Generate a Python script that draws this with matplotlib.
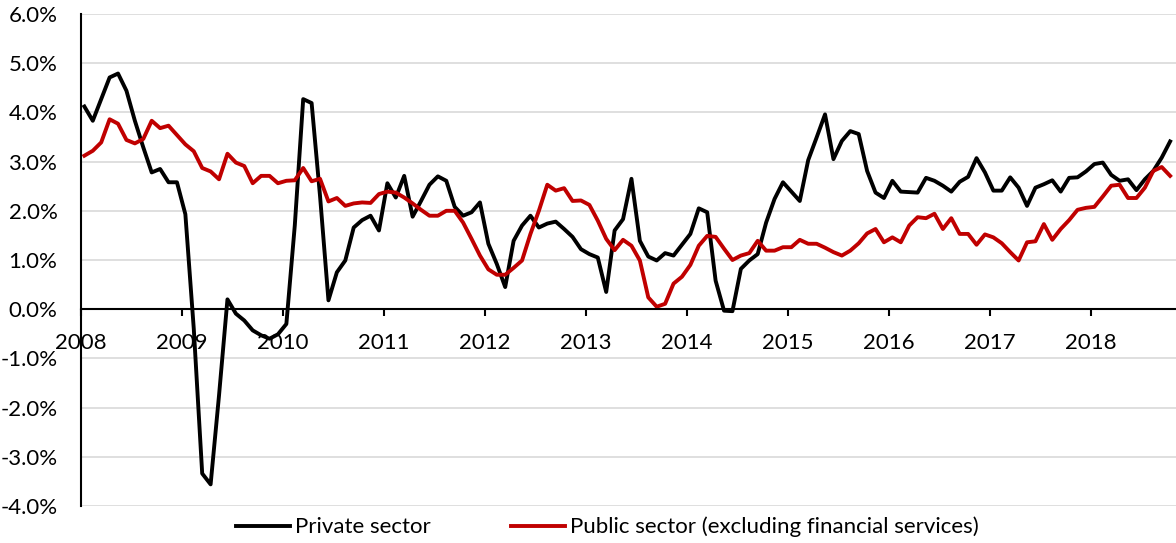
import numpy as np
import matplotlib.pyplot as plt
from matplotlib.ticker import FuncFormatter, MultipleLocator

# Monthly growth, Jan 2008 - Oct 2018 (per cent)
private_sector = [
    4.12, 3.83, 4.27, 4.71, 4.79, 4.44, 3.83, 3.29, 2.78, 2.85, 2.58, 2.58,
    1.93, -0.40, -3.34, -3.56, -1.75, 0.20, -0.09, -0.23, -0.43, -0.53, -0.60, -0.51,
    -0.30, 1.70, 4.27, 4.19, 2.30, 0.18, 0.75, 0.99, 1.66, 1.81, 1.90, 1.60,
    2.56, 2.27, 2.71, 1.88, 2.20, 2.53, 2.70, 2.61, 2.08, 1.90, 1.97, 2.17,
    1.33, 0.92, 0.45, 1.39, 1.70, 1.90, 1.66, 1.74, 1.78, 1.63, 1.47, 1.22,
    1.12, 1.05, 0.35, 1.60, 1.83, 2.65, 1.39, 1.07, 0.99, 1.14, 1.09, 1.31,
    1.53, 2.05, 1.97, 0.58, -0.03, -0.04, 0.82, 0.99, 1.12, 1.76, 2.24, 2.58,
    2.39, 2.20, 3.03, 3.49, 3.96, 3.05, 3.42, 3.62, 3.56, 2.81, 2.37, 2.26,
    2.61, 2.39, 2.38, 2.37, 2.67, 2.61, 2.51, 2.39, 2.59, 2.69, 3.07, 2.78,
    2.41, 2.41, 2.68, 2.47, 2.10, 2.47, 2.54, 2.62, 2.39, 2.67, 2.68, 2.80,
    2.95, 2.98, 2.73, 2.61, 2.64, 2.42, 2.64, 2.81, 3.08, 3.41,
]
public_sector = [
    3.12, 3.22, 3.39, 3.86, 3.77, 3.44, 3.37, 3.46, 3.83, 3.68, 3.73, 3.54,
    3.35, 3.21, 2.87, 2.80, 2.64, 3.16, 2.98, 2.91, 2.56, 2.71, 2.71, 2.56,
    2.61, 2.62, 2.87, 2.60, 2.65, 2.19, 2.26, 2.10, 2.15, 2.17, 2.16, 2.34,
    2.39, 2.37, 2.27, 2.15, 2.02, 1.90, 1.90, 2.00, 2.00, 1.76, 1.43, 1.09,
    0.81, 0.70, 0.70, 0.84, 0.99, 1.53, 2.00, 2.53, 2.41, 2.46, 2.20, 2.21,
    2.12, 1.80, 1.43, 1.20, 1.41, 1.29, 0.99, 0.24, 0.05, 0.11, 0.52, 0.66,
    0.90, 1.29, 1.49, 1.47, 1.23, 1.00, 1.09, 1.14, 1.39, 1.19, 1.19, 1.26,
    1.26, 1.41, 1.33, 1.33, 1.25, 1.16, 1.09, 1.19, 1.34, 1.54, 1.63, 1.36,
    1.46, 1.36, 1.70, 1.87, 1.85, 1.94, 1.63, 1.85, 1.53, 1.53, 1.31, 1.52,
    1.46, 1.34, 1.16, 0.99, 1.36, 1.38, 1.73, 1.41, 1.63, 1.81, 2.02, 2.06,
    2.08, 2.29, 2.51, 2.53, 2.26, 2.26, 2.47, 2.81, 2.89, 2.71,
]
years = list(range(2008, 2019))
series_labels = ["Private sector", "Public sector (excluding financial services)"]

FONT = "Lato"
FONT_SIZE = 16
BLACK = "#000000"
RED = "#C00000"

x = 2008 + (np.arange(len(private_sector)) + 0.4) / 12

fig = plt.figure(figsize=(11.76, 5.43), dpi=100)
ax = fig.add_axes([81 / 1176, 1 - 506 / 543, 1095 / 1176, 492 / 543])

ax.plot(x, private_sector, color=BLACK, linewidth=2.8, label=series_labels[0])
ax.plot(x, public_sector, color=RED, linewidth=2.8, label=series_labels[1])

ax.set_xlim(2008, 2008 + 1095 / 101)
ax.set_ylim(-4, 6)
ax.yaxis.set_major_locator(MultipleLocator(1))
ax.yaxis.set_major_formatter(FuncFormatter(lambda v, _: f"{v:.1f}%"))
ax.grid(axis="y", color="#d9d9d9", linewidth=1.2)
ax.set_axisbelow(True)

# x axis sits on the zero line, Excel style
ax.spines["bottom"].set_position(("data", 0))
for side in ("top", "right"):
    ax.spines[side].set_visible(False)
for side in ("left", "bottom"):
    ax.spines[side].set_linewidth(1.5)
    ax.spines[side].set_color(BLACK)

ax.set_xticks(years)
ax.set_xticklabels([str(y) for y in years])
ax.tick_params(axis="x", length=5, width=1.5, direction="out", pad=12)
ax.tick_params(axis="y", length=0, pad=17)
for lbl in ax.get_xticklabels() + ax.get_yticklabels():
    lbl.set_fontfamily(FONT)
    lbl.set_fontsize(FONT_SIZE)

fig.legend(loc="center", bbox_to_anchor=(0.5166, 16 / 543), ncol=2, frameon=False,
           handlelength=2.45, columnspacing=3.6, handletextpad=0.22,
           prop={"family": FONT, "size": FONT_SIZE})

fig.savefig("out.png", dpi=100)
